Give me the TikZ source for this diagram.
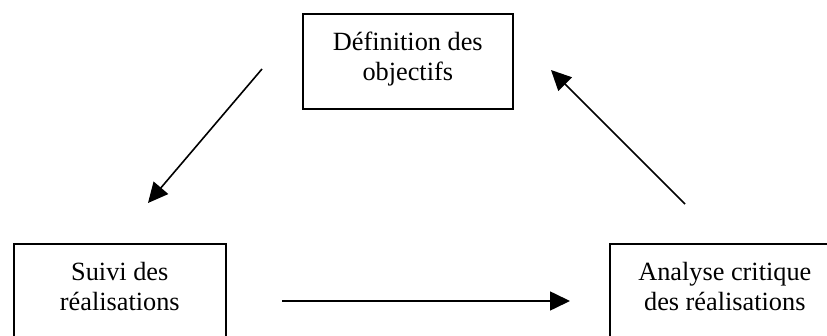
\documentclass[tikz,border=0pt]{standalone}
\usepackage{fontspec}
\setmainfont{Liberation Serif}
\usetikzlibrary{arrows.meta}

\tikzset{
  box/.style={draw, line width=1.6pt, align=center, anchor=north west,
    inner xsep=0pt, inner ysep=19pt, text height=47.5pt,
    font=\fontsize{26.3}{29.5}\selectfont},
  flow/.style={line width=1.6pt, -{Triangle[length=20pt,width=19pt]}}
}

\begin{document}
\begin{tikzpicture}[x=1pt,y=-1pt]
  \useasboundingbox (0,0) rectangle (827,336);

  % the three stages of the cycle
  \node[box, minimum width=210pt, text depth=9.5pt] (def) at (302,13)
    {Définition des\\objectifs};
  \node[box, minimum width=212pt, text depth=50pt] (suivi) at (13,243)
    {Suivi des\\réalisations};
  \node[box, minimum width=230pt, text depth=50pt] (analyse) at (609,243)
    {Analyse critique\\des réalisations};

  % free ends of the connectors
  \coordinate (d1) at (262,69);
  \coordinate (d2) at (148,203);
  \coordinate (s1) at (282,301);
  \coordinate (s2) at (570,301);
  \coordinate (a1) at (685,204);
  \coordinate (a2) at (551,70);

  \draw[flow] (d1) -- (d2);
  \draw[flow] (s1) -- (s2);
  \draw[flow] (a1) -- (a2);
\end{tikzpicture}
\end{document}
